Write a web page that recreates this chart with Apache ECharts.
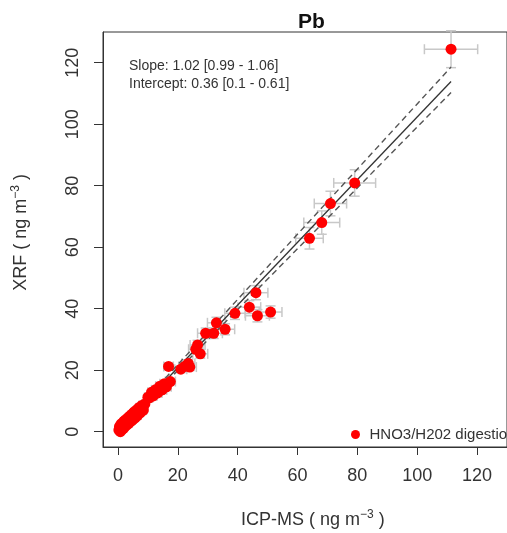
<!DOCTYPE html>
<html>
<head>
<meta charset="utf-8">
<script src="https://cdn.jsdelivr.net/npm/echarts@6/dist/echarts.min.js"></script>
<style>
  html, body { margin: 0; padding: 0; background: #fff; }
  #chart { width: 507px; height: 533px; }
</style>
</head>
<body>
<div id="chart"></div>
<script>
// ICP-MS (x) vs XRF (y), ng m-3
var icpms = [0.3, 0.5, 0.8, 1.0, 1.2, 1.5, 1.8, 2.0, 2.3, 2.6, 3.0, 3.3, 3.6, 4.0, 4.3, 4.7, 5.0, 5.4, 5.8, 6.2, 6.6, 7.0, 7.5, 8.0, 8.5, 9.0,
	10.0, 10.5, 11.2, 11.8, 12.5, 13.3, 14.0, 14.8, 15.5, 16.2, 17.5,
	16.9, 21.0, 22.3, 23.5, 24.0, 26.0, 26.6, 27.5, 29.3, 32.0, 32.9, 35.8, 39.1, 43.9, 46.1, 46.6, 51.0, 64.0, 68.1, 71.0, 79.1, 111.3];
var xrf = [0.5, 1.6, 0.0, 2.4, 0.6, 2.8, 1.0, 3.4, 1.6, 3.9, 2.2, 4.5, 2.7, 5.1, 3.3, 5.7, 3.9, 6.4, 4.6, 7.0, 5.3, 7.8, 6.2, 8.5, 7.0, 9.0,
	11.2, 11.0, 12.8, 11.6, 13.6, 12.6, 14.8, 13.6, 15.6, 14.6, 16.3,
	21.2, 20.3, 21.2, 22.2, 21.0, 26.8, 28.2, 25.3, 32.0, 32.0, 35.4, 33.3, 38.5, 40.5, 45.2, 37.7, 38.9, 62.9, 68.0, 74.2, 80.9, 124.4];
var icpmsErr = [0.3, 0.3, 0.4, 0.4, 0.4, 0.4, 0.4, 0.5, 0.5, 0.5, 0.5, 0.6, 0.6, 0.6, 0.6, 0.7, 0.7, 0.7, 0.8, 0.8, 0.8, 0.9, 0.9, 1.0, 1.0, 1.0,
	1.1, 1.1, 1.2, 1.2, 1.3, 1.4, 1.4, 1.5, 1.5, 1.6, 1.7,
	1.6, 2.0, 2.0, 2.2, 2.2, 2.4, 2.5, 2.5, 2.7, 2.9, 3.0, 3.2, 3.4, 3.8, 4.0, 4.0, 3.8, 4.6, 6.0, 5.4, 7.0, 8.9];
var xrfErr = [0.3, 0.3, 0.3, 0.3, 0.3, 0.3, 0.3, 0.3, 0.3, 0.3, 0.3, 0.4, 0.4, 0.4, 0.4, 0.4, 0.4, 0.4, 0.4, 0.5, 0.5, 0.5, 0.5, 0.5, 0.5, 0.5,
	0.6, 0.6, 0.7, 0.7, 0.7, 0.8, 0.8, 0.8, 0.8, 0.9, 0.9,
	1.1, 1.1, 1.1, 1.2, 1.1, 1.4, 1.5, 1.4, 1.7, 1.7, 1.8, 1.8, 2.0, 2.1, 2.3, 2.0, 2.0, 3.5, 3.8, 4.0, 4.3, 6.0];

var tickValues = [0, 20, 40, 60, 80, 100, 120];

// fit lines: [slope, intercept] for fit, lower and upper bound
var fitLine = [1.02, 0.36];
var lowerLine = [0.99, 0.1];
var upperLine = [1.06, 0.61];
var fitRange = [0, 111.3];

var fontName = '"Liberation Sans", Arial, sans-serif';

function lineData(p) {
	return [
		[fitRange[0], p[1] + p[0] * fitRange[0]],
		[fitRange[1], p[1] + p[0] * fitRange[1]]
	];
}

var points = [];
for (var i = 0; i < icpms.length; i++) {
	points.push([icpms[i], xrf[i], icpmsErr[i], xrfErr[i]]);
}

var myChart = echarts.init(document.getElementById('chart'));

function renderErr(params, api) {
	var x = api.value(0), y = api.value(1), xe = api.value(2), ye = api.value(3);
	var c = api.coord([x, y]);
	var l = api.coord([x - xe, y]), r = api.coord([x + xe, y]);
	var t = api.coord([x, y + ye]), b = api.coord([x, y - ye]);
	var cap = 5;
	var st = { stroke: '#c8c8c8', lineWidth: 1.5 };
	return {
		type: 'group',
		children: [
			{ type: 'line', shape: { x1: l[0], y1: c[1], x2: r[0], y2: c[1] }, style: st },
			{ type: 'line', shape: { x1: l[0], y1: c[1] - cap, x2: l[0], y2: c[1] + cap }, style: st },
			{ type: 'line', shape: { x1: r[0], y1: c[1] - cap, x2: r[0], y2: c[1] + cap }, style: st },
			{ type: 'line', shape: { x1: c[0], y1: t[1], x2: c[0], y2: b[1] }, style: st },
			{ type: 'line', shape: { x1: c[0] - cap, y1: t[1], x2: c[0] + cap, y2: t[1] }, style: st },
			{ type: 'line', shape: { x1: c[0] - cap, y1: b[1], x2: c[0] + cap, y2: b[1] }, style: st }
		]
	};
}

var option = {
	backgroundColor: '#fff',
	animation: false,
	textStyle: { fontFamily: fontName },
	grid: {
		show: true,
		left: 103,
		top: 32,
		right: -12,
		bottom: 86,
		borderColor: '#333',
		borderWidth: 1,
		backgroundColor: 'transparent'
	},
	legend: {
		data: ['HNO3/H202 digestion'],
		left: 346,
		top: 422,
		icon: 'circle',
		itemWidth: 18,
		itemHeight: 9,
		textStyle: { fontSize: 15, color: '#333', fontFamily: fontName }
	},
	xAxis: {
		type: 'value',
		min: -5,
		max: 130,
		axisLine: { show: true, onZero: false, lineStyle: { color: '#333', width: 1 } },
		splitLine: { show: false },
		axisTick: {
			show: true,
			length: 8,
			customValues: tickValues,
			lineStyle: { color: '#333' }
		},
		axisLabel: {
			customValues: tickValues,
			fontSize: 18,
			color: '#333',
			margin: 20
		}
	},
	yAxis: {
		type: 'value',
		min: -5,
		max: 130,
		axisLine: { show: true, onZero: false, lineStyle: { color: '#333', width: 1 } },
		splitLine: { show: false },
		axisTick: {
			show: true,
			length: 9,
			customValues: tickValues,
			lineStyle: { color: '#333' }
		},
		axisLabel: {
			customValues: tickValues,
			fontSize: 18,
			color: '#333',
			rotate: 90,
			margin: 21
		}
	},
	graphic: [
		{
			type: 'text', left: 298, top: 12,
			style: { text: 'Pb', font: 'bold 21px ' + fontName, fill: '#111' }
		},
		{
			type: 'text', left: 129, top: 57,
			style: {
				text: 'Slope: 1.02 [0.99 - 1.06]\nIntercept: 0.36 [0.1 - 0.61]',
				font: '14px ' + fontName, fill: '#333', lineHeight: 18
			}
		},
		{
			type: 'text', left: 241, top: 509,
			style: {
				text: 'ICP-MS ( ng m{s|−3} )',
				rich: { s: { fontSize: 12, verticalAlign: 'top', lineHeight: 22 } },
				font: '18px ' + fontName, fill: '#333', lineHeight: 22
			}
		},
		{
			type: 'text', left: 10, top: 174, rotation: Math.PI / 2,
			style: {
				text: 'XRF ( ng m{s|−3} )',
				rich: { s: { fontSize: 12, verticalAlign: 'top', lineHeight: 22 } },
				font: '18px ' + fontName, fill: '#333', lineHeight: 22
			}
		}
	],
	series: [
		{
			name: 'err',
			type: 'custom',
			renderItem: renderErr,
			data: points,
			z: 1,
			silent: true
		},
		{
			name: 'upper',
			type: 'line',
			data: lineData(upperLine),
			symbol: 'none',
			z: 2,
			lineStyle: { color: '#555', width: 1.4, type: [6, 4] }
		},
		{
			name: 'lower',
			type: 'line',
			data: lineData(lowerLine),
			symbol: 'none',
			z: 2,
			lineStyle: { color: '#555', width: 1.4, type: [6, 4] }
		},
		{
			name: 'fit',
			type: 'line',
			data: lineData(fitLine),
			symbol: 'none',
			z: 2,
			lineStyle: { color: '#333', width: 1.3 }
		},
		{
			name: 'HNO3/H202 digestion',
			type: 'scatter',
			data: points,
			symbolSize: 11,
			z: 3,
			itemStyle: { color: '#ff0000', opacity: 1 }
		}
	]
};
myChart.setOption(option);
</script>
</body>
</html>
